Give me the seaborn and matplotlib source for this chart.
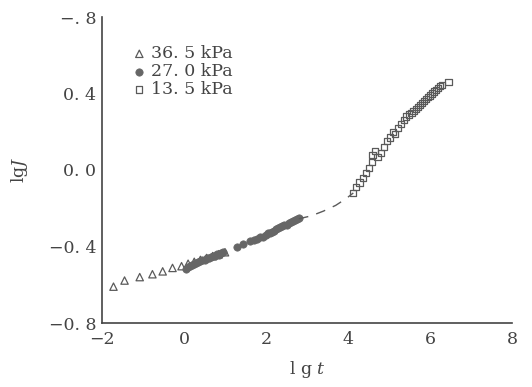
import matplotlib
matplotlib.use("Agg")
import matplotlib.pyplot as plt
import seaborn as sns
import pandas as pd

# ---- data ----
tri_x = [-1.72, -1.45, -1.08, -0.77, -0.52, -0.28, -0.06, 0.1, 0.25, 0.4, 0.55, 0.7, 0.85, 1.0]
tri_y = [-0.61, -0.578, -0.56, -0.545, -0.53, -0.512, -0.503, -0.49, -0.48, -0.47, -0.46, -0.45, -0.44, -0.43]

cir_x = [0.05, 0.1, 0.15, 0.2, 0.25, 0.3, 0.35, 0.4, 0.45, 0.5, 0.55, 0.6, 0.65, 0.7, 0.75, 0.8,
         0.85, 0.9, 0.95, 1.3, 1.45, 1.6, 1.7, 1.78, 1.85, 1.92, 2.0, 2.05, 2.1, 2.15, 2.2, 2.25,
         2.3, 2.35, 2.4, 2.45, 2.5, 2.55, 2.6, 2.65, 2.7, 2.75, 2.8]
cir_y = [-0.52, -0.505, -0.50, -0.495, -0.49, -0.485, -0.48, -0.478, -0.47, -0.468, -0.46, -0.462,
         -0.455, -0.45, -0.448, -0.44, -0.442, -0.435, -0.43, -0.40, -0.385, -0.372, -0.365, -0.36,
         -0.352, -0.348, -0.34, -0.332, -0.33, -0.322, -0.318, -0.31, -0.305, -0.30, -0.295, -0.288,
         -0.285, -0.278, -0.272, -0.268, -0.262, -0.258, -0.252]

sq_x = [4.13, 4.2, 4.28, 4.36, 4.44, 4.52, 4.58, 4.6, 4.66, 4.72, 4.8, 4.88, 4.95, 5.02, 5.1, 5.15,
        5.22, 5.3, 5.36, 5.42, 5.48, 5.55, 5.6, 5.65, 5.7, 5.75, 5.8, 5.85, 5.9, 5.95, 6.0, 6.05,
        6.1, 6.15, 6.2, 6.25, 6.3, 6.45]
sq_y = [-0.12, -0.09, -0.065, -0.04, -0.015, 0.01, 0.04, 0.08, 0.10, 0.07, 0.09, 0.12, 0.15, 0.17,
        0.20, 0.19, 0.22, 0.24, 0.26, 0.28, 0.29, 0.30, 0.31, 0.32, 0.33, 0.34, 0.35, 0.36, 0.37,
        0.38, 0.39, 0.40, 0.41, 0.42, 0.43, 0.44, 0.445, 0.46]

dash_x = [2.8, 3.1, 3.4, 3.7, 3.95, 4.13]
dash_y = [-0.255, -0.24, -0.215, -0.185, -0.15, -0.12]

series_labels = ["36. 5 kPa", "27. 0 kPa", "13. 5 kPa"]
x_ticks = [-2, 0, 2, 4, 6, 8]
x_ticklabels = ["\u22122", "0", "2", "4", "6", "8"]
y_ticks = [-0.8, -0.4, 0.0, 0.4, 0.8]
y_ticklabels = ["\u22120. 8", "\u22120. 4", "0. 0", "0. 4", "\u2212. 8"]

# ---- plot ----
sns.set_theme(style="white")
plt.rcParams['font.family'] = ['DejaVu Serif']
plt.rcParams['mathtext.fontset'] = 'dejavuserif'

fig = plt.figure(figsize=(5.32, 3.87), dpi=100)
ax = fig.add_axes([102/532, 1-323/387, 410/532, 306/387])

gray = "#5a5a5a"
df_t = pd.DataFrame({"x": tri_x, "y": tri_y})
df_c = pd.DataFrame({"x": cir_x, "y": cir_y})
df_s = pd.DataFrame({"x": sq_x, "y": sq_y})
df_d = pd.DataFrame({"x": dash_x, "y": dash_y})

sns.lineplot(data=df_d, x="x", y="y", ax=ax, color=gray, lw=1.0, sort=False,
             dashes=False, linestyle=(0, (7, 6)))
sns.scatterplot(data=df_t, x="x", y="y", ax=ax, marker="^", s=28, facecolor="none",
                edgecolor=gray, linewidth=0.9, label=series_labels[0])
sns.scatterplot(data=df_c, x="x", y="y", ax=ax, marker="o", s=28, color="#666666",
                edgecolor="#666666", linewidth=0.5, label=series_labels[1])
sns.scatterplot(data=df_s, x="x", y="y", ax=ax, marker="s", s=20, facecolor="none",
                edgecolor=gray, linewidth=0.9, label=series_labels[2])

ax.set_xlim(-2, 8)
ax.set_ylim(-0.8, 0.8)
ax.set_xticks(x_ticks)
ax.set_xticklabels(x_ticklabels)
ax.set_yticks(y_ticks)
ax.set_yticklabels(y_ticklabels)
ax.tick_params(direction="in", length=5, width=1, colors="#444444", labelsize=12.5,
               labelcolor="#444444", pad=4)
ax.tick_params(axis="x", pad=6)
for s in ["top", "right"]:
    ax.spines[s].set_visible(False)
for s in ["left", "bottom"]:
    ax.spines[s].set_color("#444444")
    ax.spines[s].set_linewidth(1.2)

ax.set_xlabel(r"l g $\it{t}$", fontsize=12.5, color="#444444", labelpad=8)
ax.set_ylabel(r"lg$\it{J}$", fontsize=12.5, color="#444444", labelpad=14)

leg = ax.legend(loc="upper left", bbox_to_anchor=(0.055, 0.93), frameon=False, fontsize=12.5,
                handletextpad=0.2, labelspacing=0.05, borderaxespad=0, handlelength=0.9,
                labelcolor="#444444")

fig.savefig("out.png", dpi=100)
